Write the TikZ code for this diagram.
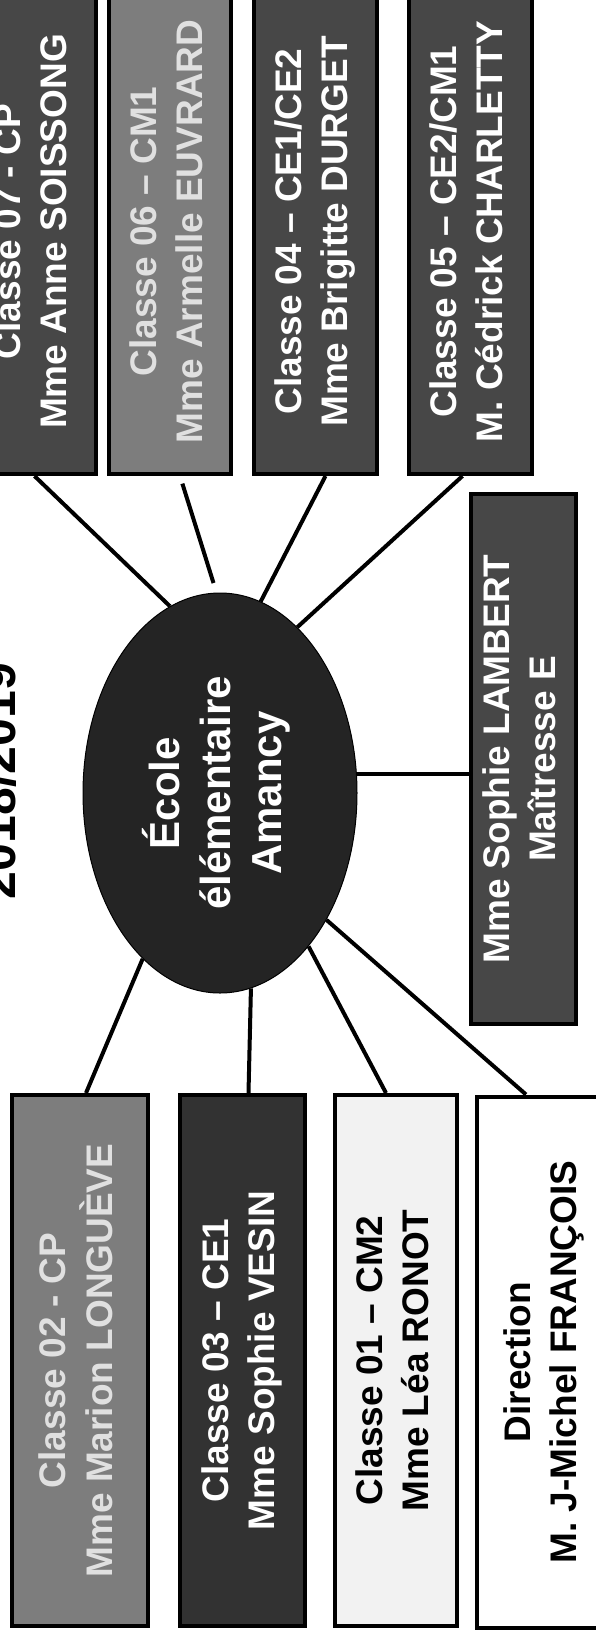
\documentclass[tikz,border=0pt]{standalone}
\usepackage{fontspec}
\setmainfont{Liberation Sans}
\usepackage{graphicx}
\usetikzlibrary{shapes.geometric}

\definecolor{grisfonce}{HTML}{474747}
\definecolor{grismoyen}{HTML}{7D7D7D}
\definecolor{grisnoir}{HTML}{323232}
\definecolor{grispale}{HTML}{F2F2F2}
\definecolor{grisclair}{HTML}{E0E0E0}
\definecolor{grisecole}{HTML}{242424}

% texte tourne d'un quart de tour
\newcommand{\vtexte}[1]{\rotatebox{90}{\begin{tabular}{@{}c@{}}#1\end{tabular}}}

\begin{document}
\begin{tikzpicture}[
        x=1pt, y=-1pt,
        fonce/.style={fill=grisfonce},
        moyen/.style={fill=grismoyen, text=grisclair},
        noirn/.style={fill=grisnoir},
        clair/.style={fill=grispale, text=black},
        blanc/.style={fill=white, text=black},
        invis/.style={draw=none},
        haut/.style={minimum height=485pt},
        bas/.style={minimum height=531pt},
        lien/.style={line width=4pt},
        every node/.style={draw=black, line width=4pt, inner sep=0pt, text=white, font=\bfseries\fontsize{37}{46}\selectfont},
    ]
    \useasboundingbox (0,0) rectangle (596,1641);
    \clip (0,0) rectangle (596,1641);
    \node[invis, rotate=90, anchor=base, text=black, font=\bfseries\fontsize{50}{60}\selectfont](annee) at (15,781){2018/2019};
    \node[ellipse, line width=1pt, fill=grisecole, minimum width=274pt, minimum height=400pt, font=\bfseries\fontsize{42}{51}\selectfont](ecole) at (220,793){\vtexte{École\\élémentaire\\Amancy}};
    % en haut
    \node[fonce, haut, minimum width=123pt](c07) at (34.5,231.5){\vtexte{Classe 07 - CP\\Mme Anne SOISSONG}};
    \node[moyen, haut, minimum width=122pt](c06) at (170,231.5){\vtexte{Classe 06 – CM1\\Mme Armelle EUVRARD}};
    \node[fonce, haut, minimum width=123pt](c04) at (315.5,231.5){\vtexte{Classe 04 – CE1/CE2\\Mme Brigitte DURGET}};
    \node[fonce, haut, minimum width=123pt](c05) at (470.5,231.5){\vtexte{Classe 05 – CE2/CM1\\M. Cédrick CHARLETTY}};
    \node[fonce, minimum width=105pt, minimum height=530pt](maitresse) at (523.5,759){\vtexte{Mme Sophie LAMBERT\\Maîtresse E}};
    % en bas
    \node[moyen, bas, minimum width=136pt](c02) at (80,1360.5){\vtexte{Classe 02 - CP\\Mme Marion LONGUÈVE}};
    \node[noirn, bas, minimum width=125pt](c03) at (242.5,1360.5){\vtexte{Classe 03 – CE1\\Mme Sophie VESIN}};
    \node[clair, bas, minimum width=122pt](c01) at (396,1360.5){\vtexte{Classe 01 – CM2\\Mme Léa RONOT}};
    \node[blanc, bas, minimum width=134pt](direction) at (544,1362){\vtexte{Direction\\M. J-Michel FRANÇOIS}};

    \draw[lien] (c07.south) -- (ecole.105);
    \draw[lien, shorten <=8pt, shorten >=10pt] ([xshift=10pt]c06.south) -- (ecole.91);
    \draw[lien] ([xshift=10pt]c04.south) -- (ecole.78);
    \draw[lien] ([xshift=-8pt]c05.south) -- (ecole.65);
    \draw[lien] (ecole.8) -- (ecole.8 -| maitresse.west);
    \draw[lien] ([xshift=6pt]c02.north) -- (ecole.245);
    \draw[lien] ([xshift=6pt]c03.north) -- (ecole.279);
    \draw[lien] ([xshift=-10pt]c01.north) -- (ecole.300);
    \draw[lien] ([xshift=-18pt]direction.north) -- (ecole.310);
\end{tikzpicture}
\end{document}
